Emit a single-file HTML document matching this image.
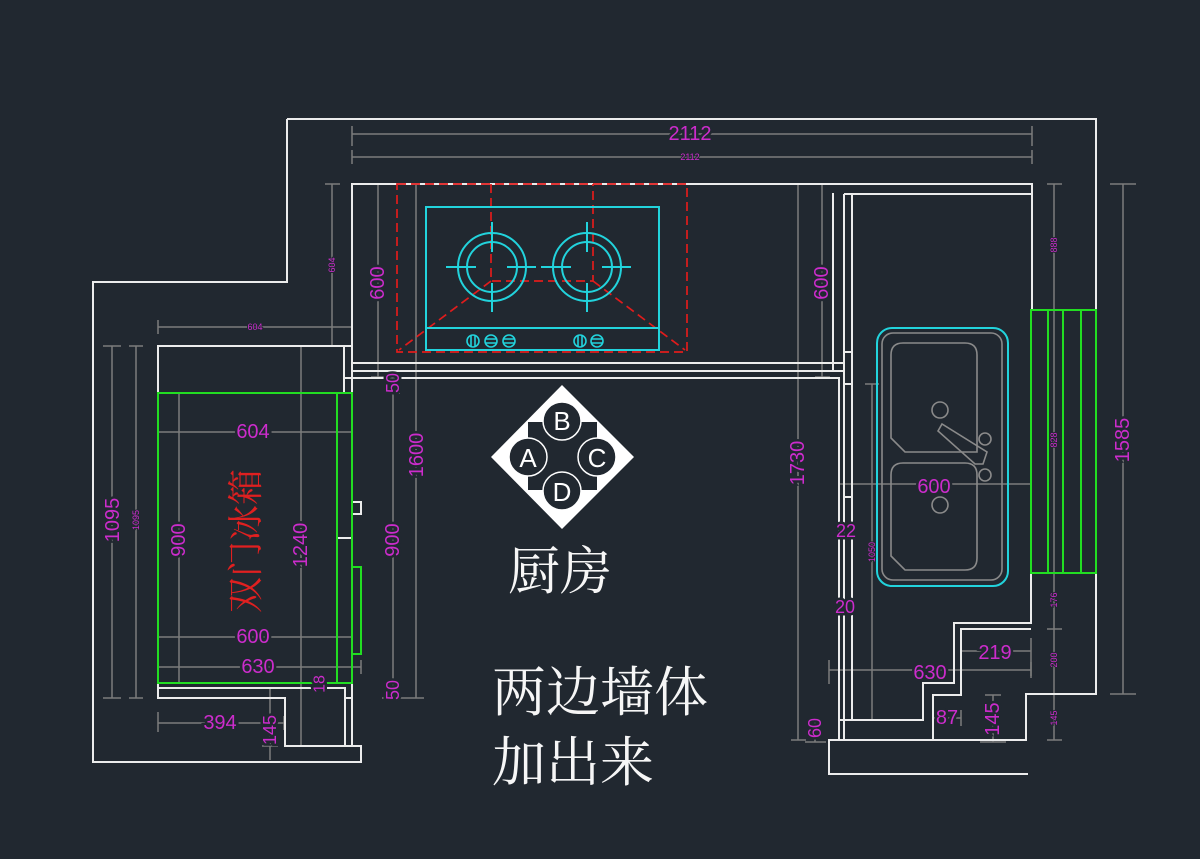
<!DOCTYPE html>
<html>
<head>
<meta charset="utf-8">
<style>
html,body{margin:0;padding:0;background:#212830;}
svg{display:block}
.w{stroke:#ececec;stroke-width:2;fill:none}
.g{stroke:#7c7c7c;stroke-width:1.5;fill:none}
.gr{stroke:#22dd22;stroke-width:2;fill:none}
.c{stroke:#22d3dc;stroke-width:2;fill:none}
.r{stroke:#e01c1c;stroke-width:1.7;fill:none;stroke-dasharray:9 5}
.gs{stroke:#8a8a8a;stroke-width:1.6;fill:none}
text.m{fill:#cc2ccc;font-family:"Liberation Sans",sans-serif;text-anchor:middle;dominant-baseline:central;stroke:#212830;stroke-width:5;paint-order:stroke}
text.s{stroke-width:2}
text.cn{font-family:"Liberation Serif","Noto Serif CJK SC","Noto Sans CJK SC",serif;fill:#f6f6f6;dominant-baseline:central}
</style>
</head>
<body>
<svg width="1200" height="859" viewBox="0 0 1200 859" xmlns="http://www.w3.org/2000/svg">
<rect x="0" y="0" width="1200" height="859" fill="#212830"/>

<!-- ===== dimension lines (gray) ===== -->
<g class="g">
  <!-- top -->
  <path d="M352,134 H1032 M352,126 V146 M1032,126 V146"/>
  <path d="M352,157 H1032 M352,150 V164 M1032,150 V164"/>
  <!-- left of stove -->
  <path d="M332,184 V346 M325,184 H340 M325,346 H340"/>
  <path d="M378,184 V377 M371,184 H386 M371,377 H386"/>
  <path d="M416,184 V698 M409,184 H424 M404,698 H424"/>
  <path d="M393,377 V698 M386,393 H400 M386,683 H400 M382,698 H404"/>
  <!-- right of stove -->
  <path d="M798,184 V740 M791,184 H806 M791,740 H806"/>
  <path d="M822,184 V377 M815,184 H830 M815,377 H830"/>
  <path d="M872,384 V720 M865,384 H879"/>
  <path d="M1054,184 V740 M1047,184 H1062 M1047,310 H1062 M1047,573 H1062 M1047,629 H1062 M1047,694 H1062 M1047,740 H1062"/>
  <path d="M1123,184 V694 M1110,184 H1136 M1110,694 H1136"/>
  <!-- left region -->
  <path d="M112,346 V698 M103,346 H121 M103,698 H121"/>
  <path d="M136,346 V698 M129,346 H143 M129,698 H143"/>
  <path d="M179,393 V683 M172,393 H186 M172,683 H186"/>
  <path d="M301,346 V746 M294,346 H308 M294,746 H308"/>
  <path d="M270,688 V760 M262,698 H278 M262,746 H278"/>
  <path d="M158,327 H352 M158,320 V334 M352,320 V334"/>
  <path d="M158,432 H352 M158,425 V439 M352,425 V439"/>
  <path d="M158,637 H352 M158,630 V644 M352,630 V644"/>
  <path d="M158,667 H361 M158,660 V674 M361,660 V674"/>
  <path d="M158,723 H284 M158,712 V732 M284,716 V730"/>
  <path d="M310,688 H330"/>
  <!-- right region -->
  <path d="M839,484 H1031 M839,476 V492 M1031,476 V492"/>
  <path d="M829,670 H1031 M829,660 V684 M1031,662 V678"/>
  <path d="M961,651 H1031 M961,644 V658 M1031,638 V676"/>
  <path d="M933,718 H961 M961,710 V726"/>
  <path d="M993,695 V742 M985,695 H1001 M980,742 H1006"/>
  <path d="M805,742 H826 M815,720 V742"/>
  <path d="M839,520 V540 M852,520 V540"/>
</g>

<!-- ===== walls (white) ===== -->
<g class="w">
  <path d="M287,119 H1096 V694 H1026 V740 H829 V774 H1028"/>
  <path d="M287,119 V282 H93 V762 H361 V746 H285 V698 H158 V346 H352 V184 H1032 V310"/>
  <path d="M352,346 V500"/>
  <path d="M344,346 V393 H352"/>
  <path d="M352,363 H844 M352,371 H844 M344,378 H839 V740"/>
  <path d="M833,193 V371"/>
  <path d="M844,194 H1032 M844,194 V740 M852,194 V720 M844,352 H852 M844,384 H852 M844,497 H852"/>
  <path d="M839,720 H923 V683 H954 V623 H1031 V573"/>
  <path d="M933,740 V695 H961 V629 H1031"/>
  <path d="M158,688 H345 V746 M352,683 V746 M345,698 H352"/>
  <rect x="352" y="502" width="9" height="12"/>
  <path d="M337,538 H352"/>
</g>

<!-- ===== green fridge & cabinets ===== -->
<g class="gr">
  <rect x="158" y="393" width="194" height="290"/>
  <path d="M337,393 V683"/>
  <path d="M352,567 H361 V654 H352"/>
  <rect x="1031" y="310" width="65" height="263"/>
  <path d="M1048,310 V573 M1063,310 V573 M1081,310 V573"/>
</g>

<!-- ===== stove ===== -->
<g class="r">
  <rect x="397" y="184" width="290" height="168"/>
  <path d="M491,184 V281 H593 V184"/>
  <path d="M491,281 L399,350 M593,281 L685,350"/>
</g>
<g class="c">
  <rect x="426" y="207" width="233" height="143"/>
  <path d="M426,328 H659"/>
  <circle cx="492" cy="267" r="34"/>
  <circle cx="492" cy="267" r="25"/>
  <path d="M446,267 H476 M507,267 H536 M492,222 V252 M492,283 V312"/>
  <circle cx="587" cy="267" r="34"/>
  <circle cx="587" cy="267" r="25"/>
  <path d="M541,267 H571 M602,267 H631 M587,222 V252 M587,283 V312"/>
  <g stroke-width="1.6">
    <circle cx="473" cy="341" r="6"/><path d="M471,335 V347 M475,335 V347"/>
    <circle cx="491" cy="341" r="6"/><path d="M485,339 H497 M485,343 H497"/>
    <circle cx="509" cy="341" r="6"/><path d="M503,339 H515 M503,343 H515"/>
    <circle cx="580" cy="341" r="6"/><path d="M578,335 V347 M582,335 V347"/>
    <circle cx="597" cy="341" r="6"/><path d="M591,339 H603 M591,343 H603"/>
  </g>
</g>

<!-- ===== sink ===== -->
<rect x="877" y="328" width="131" height="258" rx="15" class="c"/>
<g class="gs">
  <rect x="882" y="333" width="120" height="247" rx="11"/>
  <path d="M903,343 H965 Q977,343 977,355 V452 H905 L891,438 V355 Q891,343 903,343 Z"/>
  <path d="M903,463 H965 Q977,463 977,475 V558 Q977,570 965,570 H905 L891,556 V475 Q891,463 903,463 Z"/>
  <circle cx="940" cy="410" r="8"/>
  <circle cx="985" cy="439" r="6"/>
  <circle cx="985" cy="475" r="6"/>
  <circle cx="940" cy="505" r="8"/>
  <polygon points="938,431 942,424 987,452 983,464 975,464"/>
</g>

<!-- ===== ABCD marker ===== -->
<polygon points="562,385 634,457 562,529 491,457" fill="#ffffff"/>
<rect x="528" y="422" width="69" height="68" fill="#212830"/>
<g fill="#212830" stroke="#ffffff" stroke-width="1.5">
  <circle cx="562" cy="421" r="19"/>
  <circle cx="528" cy="457" r="19"/>
  <circle cx="597" cy="457" r="19"/>
  <circle cx="562" cy="491" r="19"/>
</g>
<g fill="#ffffff" font-family="Liberation Sans, sans-serif" font-size="26" text-anchor="middle" dominant-baseline="central">
  <text x="562" y="421">B</text>
  <text x="528" y="458">A</text>
  <text x="597" y="458">C</text>
  <text x="562" y="492">D</text>
</g>

<!-- ===== dimension texts ===== -->
<text class="m" x="690" y="134" font-size="20">2112</text>
<text class="m s" x="690" y="157" font-size="9">2112</text>
<text class="m s" transform="translate(332,265) rotate(-90)" font-size="9">604</text>
<text class="m" transform="translate(378,283) rotate(-90)" font-size="20">600</text>
<text class="m" transform="translate(417,455) rotate(-90)" font-size="20">1600</text>
<text class="m" transform="translate(393,383) rotate(-90)" font-size="18">50</text>
<text class="m" transform="translate(393,540) rotate(-90)" font-size="20">900</text>
<text class="m" transform="translate(393,690) rotate(-90)" font-size="18">50</text>
<text class="m" transform="translate(798,463) rotate(-90)" font-size="20">1730</text>
<text class="m" transform="translate(822,283) rotate(-90)" font-size="20">600</text>
<text class="m s" transform="translate(872,552) rotate(-90)" font-size="9">1050</text>
<text class="m s" transform="translate(1054,245) rotate(-90)" font-size="9">888</text>
<text class="m s" transform="translate(1054,440) rotate(-90)" font-size="9">828</text>
<text class="m s" transform="translate(1054,600) rotate(-90)" font-size="9">176</text>
<text class="m s" transform="translate(1054,660) rotate(-90)" font-size="9">200</text>
<text class="m s" transform="translate(1054,718) rotate(-90)" font-size="9">145</text>
<text class="m" transform="translate(1123,440) rotate(-90)" font-size="20">1585</text>
<text class="m" transform="translate(113,520) rotate(-90)" font-size="20">1095</text>
<text class="m s" transform="translate(136,520) rotate(-90)" font-size="9">1095</text>
<text class="m" transform="translate(179,540) rotate(-90)" font-size="20">900</text>
<text class="m" transform="translate(301,545) rotate(-90)" font-size="20">1240</text>
<text class="m" transform="translate(270,730) rotate(-90)" font-size="18">145</text>
<text class="m" transform="translate(320,684) rotate(-90)" font-size="16">18</text>
<text class="m s" x="255" y="327" font-size="9">604</text>
<text class="m" x="253" y="432" font-size="20">604</text>
<text class="m" x="253" y="637" font-size="20">600</text>
<text class="m" x="258" y="667" font-size="20">630</text>
<text class="m" x="220" y="723" font-size="20">394</text>
<text class="m" x="934" y="487" font-size="20">600</text>
<text class="m" x="930" y="673" font-size="20">630</text>
<text class="m" x="995" y="653" font-size="20">219</text>
<text class="m" x="947" y="718" font-size="20">87</text>
<text class="m" transform="translate(993,719) rotate(-90)" font-size="20">145</text>
<text class="m" transform="translate(815,728) rotate(-90)" font-size="18">60</text>
<text class="m" x="846" y="531" font-size="18">22</text>
<text class="m" x="845" y="607" font-size="18">20</text>

<!-- ===== Chinese labels ===== -->
<text transform="translate(246,541) rotate(-90)" font-family="Liberation Serif, 'Noto Serif CJK SC', serif" font-size="36" fill="#e02020" text-anchor="middle" dominant-baseline="central">双门冰箱</text>
<text class="cn" x="508" y="573" font-size="52">厨房</text>
<text class="cn" x="492" y="693" font-size="54">两边墙体</text>
<text class="cn" x="492" y="763" font-size="54">加出来</text>
</svg>
</body>
</html>
